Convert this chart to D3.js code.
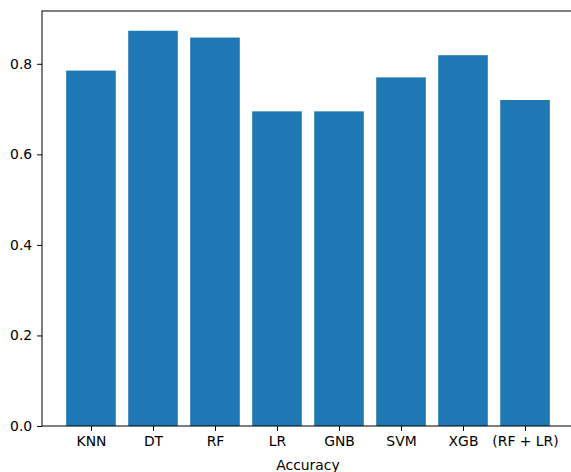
<!DOCTYPE html>
<html>
<head>
<meta charset="utf-8">
<script src="https://cdn.jsdelivr.net/npm/d3@7"></script>
<style>
  html, body { margin: 0; padding: 0; background: #fff; }
  svg { display: block; }
  text { font-family: "DejaVu Sans", sans-serif; fill: #000; }
</style>
</head>
<body>
<script>
const categories = ["KNN", "DT", "RF", "LR", "GNB", "SVM", "XGB", "(RF + LR)"];
const accuracy = [0.785, 0.873, 0.858, 0.695, 0.695, 0.770, 0.819, 0.720];
const yTicks = [0.0, 0.2, 0.4, 0.6, 0.8];
const xLabel = "Accuracy";

(function () {
const W = 571, H = 472;
const mLeft = 42, mRight = 574, mTop = 11, mBottom = 426;
const fontSize = 13.9;

const svg = d3.select("body").append("svg").attr("width", W).attr("height", H);

const n = categories.length;
const pad = 0.05 * (n - 1 + 0.8);
const x = d3.scaleLinear().domain([-0.4 - pad, n - 1 + 0.4 + pad]).range([mLeft, mRight]);
const ymax = d3.max(accuracy) * 1.05;
const y = d3.scaleLinear().domain([0, ymax]).range([mBottom, mTop]);

svg.append("g").selectAll("rect").data(accuracy).join("rect")
  .attr("x", (d, i) => x(i - 0.4))
  .attr("width", (d, i) => x(i + 0.4) - x(i - 0.4))
  .attr("y", d => y(d))
  .attr("height", d => y(0) - y(d))
  .attr("fill", "#1f77b4");

const yAxis = d3.axisLeft(y).tickValues(yTicks).tickFormat(d3.format(".1f")).tickSize(4.9).tickPadding(4.9);
const gy = svg.append("g").attr("transform", `translate(${mLeft},0)`).call(yAxis);
gy.select(".domain").remove();
gy.selectAll("line").attr("stroke", "#000").attr("stroke-width", 1);
gy.selectAll("text").style("font-size", fontSize + "px").style("font-family", "DejaVu Sans").attr("fill", "#000");

const xAxis = d3.axisBottom(x).tickValues(d3.range(n)).tickFormat(i => categories[i]).tickSize(4.9).tickPadding(4.9);
const gx = svg.append("g").attr("transform", `translate(0,${mBottom})`).call(xAxis);
gx.select(".domain").remove();
gx.selectAll("line").attr("stroke", "#000").attr("stroke-width", 1);
gx.selectAll("text").style("font-size", fontSize + "px").style("font-family", "DejaVu Sans").attr("fill", "#000");

svg.append("rect").attr("x", mLeft).attr("y", mTop).attr("width", mRight - mLeft).attr("height", mBottom - mTop)
  .attr("fill", "none").attr("stroke", "#000").attr("stroke-width", 1);

svg.append("text")
  .attr("x", (mLeft + mRight) / 2)
  .attr("y", 470)
  .attr("text-anchor", "middle")
  .style("font-size", fontSize + "px")
  .text(xLabel);
})();
</script>
</body>
</html>
